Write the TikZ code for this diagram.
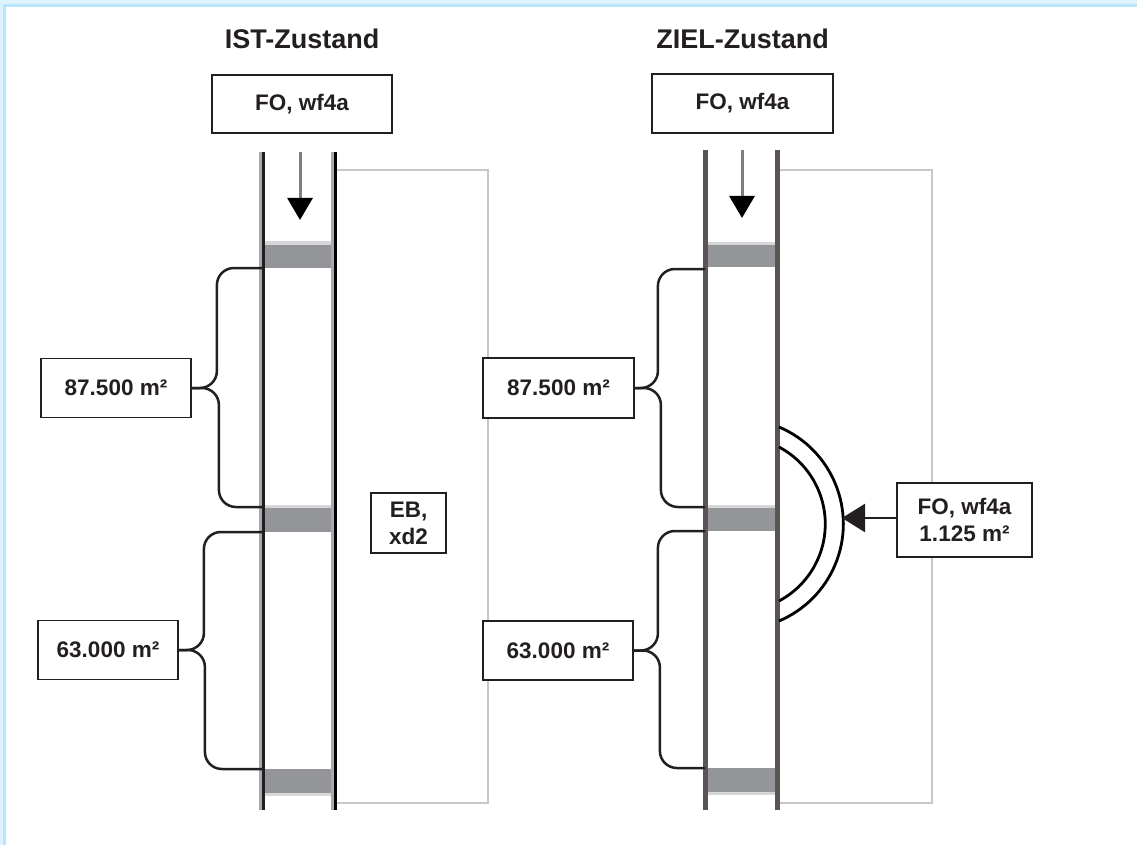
\documentclass[tikz,border=0pt]{standalone}
\usepackage{fontspec}
\setmainfont{Liberation Sans}
\usetikzlibrary{arrows.meta}
\definecolor{ink}{HTML}{231F20}
\definecolor{wallgray}{HTML}{5A5455}
\definecolor{wallside}{HTML}{A7A9AC}
\definecolor{slab}{HTML}{939598}
\definecolor{slabtop}{HTML}{D6D7D8}
\definecolor{framegray}{HTML}{C7C8CA}
\definecolor{shaft}{HTML}{827D7E}
\definecolor{skyA}{HTML}{DDF2FC}
\definecolor{skyB}{HTML}{B9E5FA}

\begin{document}
\begin{tikzpicture}[x=1pt, y=1pt,
  box/.style={draw=ink, line width=1.8pt, fill=white, text=ink, align=center,
    inner sep=0pt, font=\fontsize{22.5}{27}\selectfont\bfseries},
  title/.style={anchor=base, text=ink, font=\fontsize{27}{30}\selectfont\bfseries},
  brace/.style={draw=ink, line width=2.5pt, rounded corners=17pt},
  flow/.style={draw=shaft, line width=3pt, -{Triangle[length=22pt, width=25pt, color=black]}},
  push/.style={draw=ink, line width=2.5pt, -{Triangle[length=23pt, width=28pt]}},
  rim/.style={draw=framegray, line width=2.8pt},
  bulge/.style={draw=black, line width=2.8pt}]
\useasboundingbox (0,0) rectangle (1137,-845);
% frame of the page
\fill[skyA] (0,0) rectangle (1137,-4);
\fill[skyA] (0,0) rectangle (3,-845);
\fill[skyB] (3,-4) rectangle (1137,-7);
\fill[skyB] (3,-4) rectangle (6,-845);

% IST-Zustand
\node[title] (t1) at (302,-49) {IST-Zustand};
\node[box, minimum width=180pt, minimum height=58pt] (fo1) at (302,-104) {FO, wf4a};
\draw[rim] (337,-170) -- (488,-170) -- (488,-803) -- (337,-803);
\fill[slabtop] (262,-241) rectangle (334,-245);
\fill[slab] (262,-245) rectangle (334,-268);
\fill[slabtop] (262,-505) rectangle (334,-508);
\fill[slab] (262,-508) rectangle (334,-532);
\fill[slab] (262,-769) rectangle (334,-793);
\fill[slabtop] (262,-793) rectangle (334,-796);
\draw[wallside, line width=3pt] (260.3,-152) -- (260.3,-810);
\draw[ink, line width=3pt] (263.2,-152) -- (263.2,-810);
\draw[wallside, line width=2.8pt] (332.8,-152) -- (332.8,-810);
\draw[black, line width=3.2pt] (335.5,-152) -- (335.5,-810);
\draw[flow] (300,-152) -- (300,-220);
\node[box, minimum width=150pt, minimum height=59pt] (a1) at (116,-388) {87.500 m²};
\node[box, minimum width=140pt, minimum height=59pt] (b1) at (108,-650) {63.000 m²};
\node[box, minimum width=75pt, minimum height=60pt] (eb) at (408.5,-523) {EB,\\xd2};
\coordinate (s1) at (262,-268);
\coordinate (s2) at (262,-507);
\coordinate (s3) at (262,-532);
\coordinate (s4) at (262,-769);
\draw[brace] (s1) -| ([xshift=25pt]a1.east) -- (a1.east);
\draw[brace] (a1.east) -- ([xshift=27pt]a1.east) |- (s2);
\draw[brace] (s3) -| ([xshift=25pt]b1.east) -- (b1.east);
\draw[brace] (b1.east) -- ([xshift=26pt]b1.east) |- (s4);

% ZIEL-Zustand
\node[title] (t2) at (742.5,-49) {ZIEL-Zustand};
\node[box, minimum width=181pt, minimum height=59pt] (fo2) at (742.5,-103.5) {FO, wf4a};
\draw[rim] (779,-170) -- (932,-170) -- (932,-803) -- (779,-803);
\fill[slabtop] (705,-242) rectangle (777,-245);
\fill[slab] (705,-245) rectangle (777,-267);
\fill[slabtop] (705,-505) rectangle (777,-508);
\fill[slab] (705,-508) rectangle (777,-531);
\fill[slab] (705,-768) rectangle (777,-792);
\fill[slabtop] (705,-792) rectangle (777,-795);
\draw[wallgray, line width=5pt] (705,-150) -- (705,-810);
\draw[wallgray, line width=5pt] (777,-150) -- (777,-810);
\draw[flow] (742,-150) -- (742,-218);
\node[box, minimum width=151pt, minimum height=60pt] (a2) at (558.5,-388) {87.500 m²};
\node[box, minimum width=150pt, minimum height=59pt] (b2) at (558,-650.5) {63.000 m²};
\coordinate (r1) at (705,-269);
\coordinate (r2) at (705,-507);
\coordinate (r3) at (705,-531);
\coordinate (r4) at (705,-768);
\draw[brace] (r1) -| ([xshift=23pt]a2.east) -- (a2.east);
\draw[brace] (a2.east) -- ([xshift=26pt]a2.east) |- (r2);
\draw[brace] (r3) -| ([xshift=24pt]b2.east) -- (b2.east);
\draw[brace] (b2.east) -- ([xshift=26pt]b2.east) |- (r4);
% new opening in the wall
\draw[bulge] (779,-427) arc[start angle=67.1, end angle=-67.1, radius=105.3];
\draw[bulge] (779,-447) arc[start angle=62, end angle=-62, radius=87.2];
\node[box, minimum width=135pt, minimum height=74pt] (fo3) at (964.5,-520) {FO, wf4a\\1.125 m²};
\coordinate (hit) at (842,-518);
\draw[push] (fo3.west |- hit) -- (hit);
\end{tikzpicture}
\end{document}
